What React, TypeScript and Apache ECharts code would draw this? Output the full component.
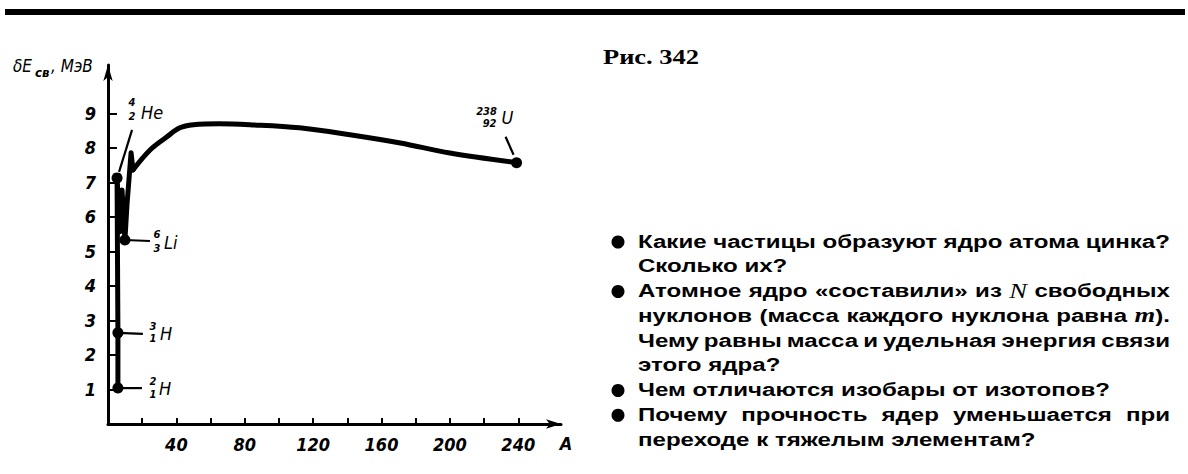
import React, { useEffect, useRef } from "react";
import * as echarts from "echarts";

// ---- data ----
// low-A jagged part of the curve (mass number A, specific binding energy, MeV)
const jagA = [5.8, 5.8, 5.3, 7.0, 8.2, 9.9, 11.1, 13.5, 14.6];
const jagE = [1.04, 2.64, 7.13, 5.57, 6.78, 5.33, 6.35, 7.86, 7.36];
// smooth part of the curve
const smoothA = [14.6, 24.6, 34.5, 42, 50, 65, 83, 112, 141.5, 171, 200, 239];
const smoothE = [7.36, 7.94, 8.32, 8.58, 8.67, 8.7, 8.67, 8.58, 8.38, 8.14, 7.85, 7.57];
// marked nuclei
const isotopeNames = ["H", "H", "He", "Li", "U"];
const isotopeMass = ["2", "3", "4", "6", "238"];
const isotopeCharge = ["1", "1", "2", "3", "92"];
const isotopeA = [5.8, 5.8, 5.3, 9.9, 239];
const isotopeE = [1.04, 2.64, 7.13, 5.33, 7.57];
// axis ticks / labels
const xTickValues = [20, 40, 60, 80, 100, 120, 140, 160, 180, 200, 220, 240];
const xLabelValues = [40, 80, 120, 160, 200, 240];
const yTickValues = [1, 2, 3, 4, 5, 6, 7, 8, 9];
const yLabelValues = [1, 2, 3, 4, 5, 6, 7, 8, 9];

const figureTitle = "Рис. 342";
const questionLines = [
  "Какие частицы образуют ядро атома цинка?",
  "Сколько их?",
  "Атомное ядро «составили» из N свободных",
  "нуклонов (масса каждого нуклона равна m).",
  "Чему равны масса и удельная энергия связи",
  "этого ядра?",
  "Чем отличаются изобары от изотопов?",
  "Почему прочность ядер уменьшается при",
  "переходе к тяжелым элементам?",
];
const justifiedLines = [true, false, true, true, true, false, false, true, false];
const bulletLines = [true, false, true, false, false, false, true, true, false];

// ---- layout (pixel offsets of annotation pieces relative to each dot) ----
const labelLayout = [
  { line: [0, 0, 24, 0], sup: [35, -7], sub: [35, 6], name: [41, 0] },
  { line: [0, 0, 25, 1], sup: [35, -6], sub: [35, 6], name: [42, 1] },
  { line: [2, -6, 15, -48], sup: [15, -75], sub: [15, -61], name: [24, -65] },
  { line: [0, 0, 25, 1], sup: [32, -6], sub: [32, 8], name: [39, 2] },
  { line: [-3, -8, -11, -26], sup: [-30, -51], sub: [-27, -39], name: [-15, -45] },
];

const DRAW_FONT = "'DejaVu Sans Condensed', 'DejaVu Sans', sans-serif";
const BODY_FAMILY = "'Liberation Sans', Arial, sans-serif";
const SERIF_FAMILY = "'Liberation Serif', 'Times New Roman', serif";

type Seg = { t: string; size: number; family: string; weight: string; style: string };

const canvas = typeof document !== "undefined" ? document.createElement("canvas") : null;
const ctx = canvas ? canvas.getContext("2d") : null;
function cssFont(s: Seg) {
  return `${s.style} ${s.weight} ${s.size}px ${s.family}`;
}
function measure(s: Seg) {
  if (!ctx) return s.t.length * s.size * 0.6;
  ctx.font = cssFont(s);
  return ctx.measureText(s.t).width;
}

const BODY_SIZE = 19;
function bodySeg(t: string): Seg {
  return { t, size: BODY_SIZE, family: BODY_FAMILY, weight: "bold", style: "normal" };
}
function segmentsOf(word: string): Seg[] {
  if (word === "N") return [{ t: "N", size: 21, family: SERIF_FAMILY, weight: "normal", style: "italic" }];
  if (word.startsWith("m)")) {
    return [
      { t: "m", size: 21, family: SERIF_FAMILY, weight: "bold", style: "italic" },
      bodySeg(word.slice(1)),
    ];
  }
  return [bodySeg(word)];
}

function buildTextBlock(): any[] {
  const els: any[] = [];
  const left = 638;
  const right = 1170;
  const firstY = 241;
  const step = 24.75;
  const refW = measure(bodySeg("Чем отличаются изобары от изотопов?"));
  const sx = 472 / refW;
  const spaceW = measure(bodySeg(" ")) * sx;
  questionLines.forEach((line, li) => {
    const y = firstY + li * step;
    const words = line.split(" ").map(segmentsOf);
    const widths = words.map((segs) => segs.reduce((s, g) => s + measure(g) * sx, 0));
    const total = widths.reduce((a, b) => a + b, 0);
    const gap =
      justifiedLines[li] && words.length > 1 ? (right - left - total) / (words.length - 1) : spaceW;
    let x = left;
    words.forEach((segs, wi) => {
      let px = x;
      segs.forEach((g) => {
        els.push({
          type: "text",
          x: px,
          y,
          scaleX: sx,
          style: {
            text: g.t,
            fontSize: g.size,
            fontFamily: g.family,
            fontWeight: g.weight,
            fontStyle: g.style,
            fill: "#000",
            align: "left",
            verticalAlign: "middle",
          },
        });
        px += measure(g) * sx;
      });
      x += widths[wi] + gap;
    });
    if (bulletLines[li]) {
      els.push({ type: "circle", shape: { cx: 618, cy: y + 1, r: 6.5 }, style: { fill: "#000" } });
    }
  });
  // figure title
  const titleSeg: Seg = { t: figureTitle, size: 21, family: SERIF_FAMILY, weight: "bold", style: "normal" };
  const tsx = 96 / measure(titleSeg);
  els.push({
    type: "text",
    x: 603,
    y: 57,
    scaleX: tsx,
    style: {
      text: figureTitle,
      fontSize: 21,
      fontFamily: SERIF_FAMILY,
      fontWeight: "bold",
      fill: "#000",
      align: "left",
      verticalAlign: "middle",
    },
  });
  return els;
}

export default function App() {
  const ref = useRef<HTMLDivElement>(null);
  useEffect(() => {
    if (!ref.current) return;
    const chart = echarts.init(ref.current, undefined, { renderer: "svg" });
    const axisLabelStyle = {
      fontFamily: DRAW_FONT,
      fontStyle: "italic" as const,
      fontWeight: "bold" as const,
      color: "#000",
    };
    const option: any = {
      animation: false,
      backgroundColor: "#fff",
      grid: { left: 108, top: 65, width: 453, height: 359, containLabel: false },
      xAxis: {
        type: "value",
        min: 0,
        max: 265,
        splitLine: { show: false },
        axisLine: {
          lineStyle: { color: "#000", width: 3 },
          symbol: ["none", "arrow"],
          symbolSize: [7, 15],
        },
        axisTick: { customValues: xTickValues, inside: true, length: 6, lineStyle: { color: "#000", width: 2 } },
        axisLabel: { customValues: xLabelValues, margin: 11, fontSize: 18, ...axisLabelStyle },
      },
      yAxis: {
        type: "value",
        min: 0,
        max: 10.4,
        splitLine: { show: false },
        axisLine: {
          lineStyle: { color: "#000", width: 3 },
          symbol: ["none", "arrow"],
          symbolSize: [7, 16],
        },
        axisTick: { customValues: yTickValues, inside: true, length: 9, lineStyle: { color: "#000", width: 2 } },
        axisLabel: { customValues: yLabelValues, margin: 12, fontSize: 18, ...axisLabelStyle },
      },
      series: [
        {
          type: "line",
          data: jagA.map((a, i) => [a, jagE[i]]),
          symbol: "none",
          smooth: false,
          lineStyle: { color: "#000", width: 5, cap: "round", join: "round" },
          z: 3,
        },
        {
          type: "line",
          data: smoothA.map((a, i) => [a, smoothE[i]]),
          symbol: "none",
          smooth: 0.35,
          lineStyle: { color: "#000", width: 5, cap: "round", join: "round" },
          z: 3,
        },
        {
          type: "custom",
          z: 5,
          clip: false,
          data: isotopeA.map((a, i) => [a, isotopeE[i]]),
          encode: { x: 0, y: 1 },
          renderItem: (params: any, api: any) => {
            const i = params.dataIndex;
            const p = api.coord([api.value(0), api.value(1)]);
            const o = labelLayout[i];
            const small = {
              fontFamily: DRAW_FONT,
              fontStyle: "italic",
              fontWeight: "bold",
              fontSize: 11,
              fill: "#000",
              align: "center",
              verticalAlign: "middle",
            };
            return {
              type: "group",
              children: [
                {
                  type: "polyline",
                  shape: {
                    points: [
                      [p[0] + o.line[0], p[1] + o.line[1]],
                      [p[0] + o.line[2], p[1] + o.line[3]],
                    ],
                  },
                  style: { stroke: "#000", lineWidth: 2.2, fill: null },
                },
                { type: "circle", shape: { cx: p[0], cy: p[1], r: 5.5 }, style: { fill: "#000" } },
                { type: "text", x: p[0] + o.sup[0], y: p[1] + o.sup[1], style: { ...small, text: isotopeMass[i] } },
                { type: "text", x: p[0] + o.sub[0], y: p[1] + o.sub[1], style: { ...small, text: isotopeCharge[i] } },
                {
                  type: "text",
                  x: p[0] + o.name[0],
                  y: p[1] + o.name[1],
                  style: {
                    ...small,
                    fontWeight: "normal",
                    fontSize: 18,
                    align: "left",
                    text: isotopeNames[i],
                  },
                },
              ],
            };
          },
        },
      ],
      graphic: [
        { type: "rect", shape: { x: 5, y: 9, width: 1180, height: 6 }, style: { fill: "#000" } },
        {
          type: "text",
          x: 13,
          y: 66,
          style: { text: "δE", fontFamily: DRAW_FONT, fontStyle: "italic", fontSize: 17, fill: "#000", verticalAlign: "middle" },
        },
        {
          type: "text",
          x: 35,
          y: 72,
          style: { text: "св", fontFamily: DRAW_FONT, fontStyle: "italic", fontWeight: "bold", fontSize: 13, fill: "#000", verticalAlign: "middle" },
        },
        {
          type: "text",
          x: 51,
          y: 66,
          style: { text: ", МэВ", fontFamily: DRAW_FONT, fontStyle: "italic", fontSize: 17, fill: "#000", verticalAlign: "middle" },
        },
        {
          type: "text",
          x: 566,
          y: 443,
          style: { text: "A", fontFamily: DRAW_FONT, fontStyle: "italic", fontWeight: "bold", fontSize: 18, fill: "#000", align: "center", verticalAlign: "middle" },
        },
        ...buildTextBlock(),
      ],
    };
    chart.setOption(option);
    return () => chart.dispose();
  }, []);
  return (
    <div
      ref={ref}
      style={{ position: "fixed", left: 0, top: 0, width: 1188, height: 474, background: "#fff" }}
    />
  );
}
